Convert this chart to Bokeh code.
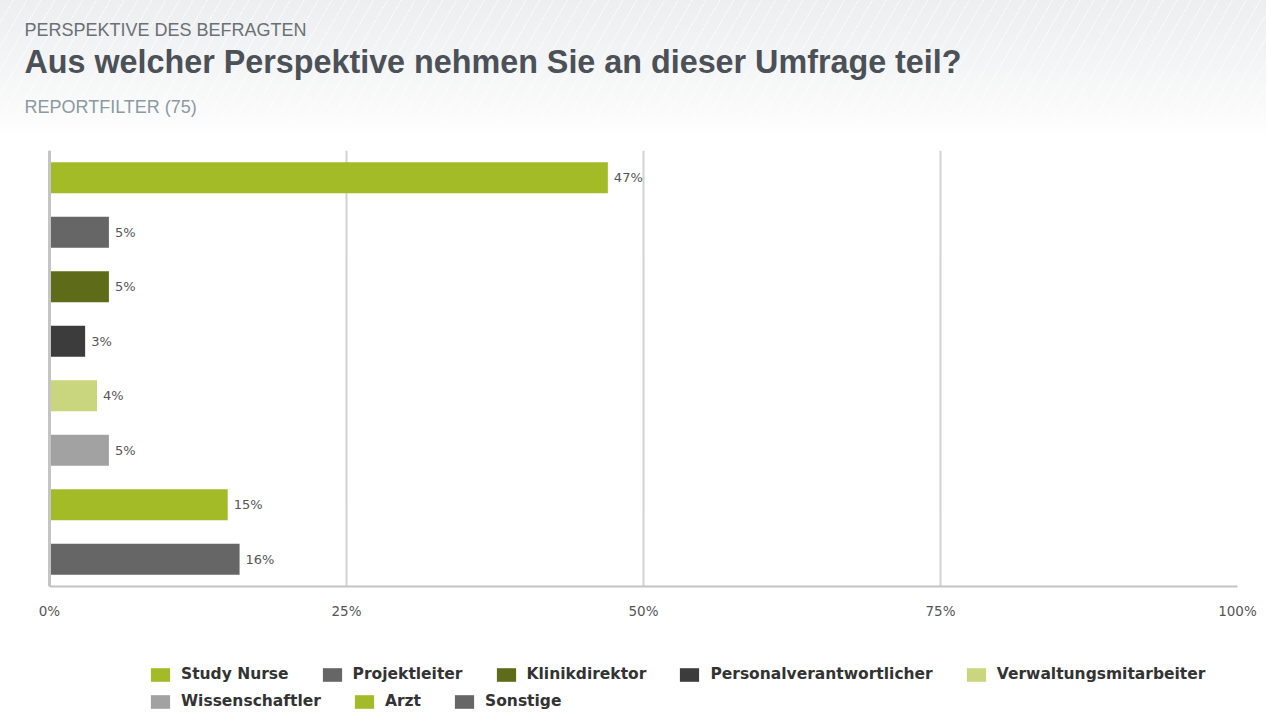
from bokeh.plotting import figure
from bokeh.layouts import column
from bokeh.models import (FactorRange, Range1d, Label, Legend, LegendItem, ColumnDataSource,
                          FixedTicker, Span)
from bokeh.core.properties import value
from bokeh.embed import file_html
from bokeh.resources import INLINE

# ---- data ----
categories = ["Study Nurse", "Projektleiter", "Klinikdirektor", "Personalverantwortlicher",
              "Verwaltungsmitarbeiter", "Wissenschaftler", "Arzt", "Sonstige"]
percent_values = [47, 5, 5, 3, 4, 5, 15, 16]
bar_colors = ["#a4bb28", "#666666", "#5e6c19", "#3c3c3c", "#c9d67e", "#a2a2a2", "#a4bb28", "#666666"]
tick_values = [0, 25, 50, 75, 100]
tick_labels = ["0%", "25%", "50%", "75%", "100%"]

kicker_text = "PERSPEKTIVE DES BEFRAGTEN"
title_text = "Aus welcher Perspektive nehmen Sie an dieser Umfrage teil?"
filter_text = "REPORTFILTER (75)"

src = ColumnDataSource(dict(
    cat=categories,
    val=percent_values,
    color=bar_colors,
    label=[f"{v}%" for v in percent_values],
))

W = 1266
AX_L, FR = 49, 1237        # pixel position of 0% and of the frame's right edge
RB = W - FR                # right border shared by all stacked figures

# ---------------- header ----------------
header = figure(width=W, height=150, x_range=Range1d(0, FR), y_range=Range1d(150, 0),
                x_axis_location=None, y_axis_location=None, min_border=0,
                min_border_left=0, min_border_right=RB,
                output_backend="svg", toolbar_location=None)
header.outline_line_color = None
header.background_fill_color = None
header.border_fill_color = None
header.grid.visible = False
header.styles = {
    "background": ("repeating-linear-gradient(120deg, rgba(255,255,255,0) 0px, "
                   "rgba(255,255,255,0) 11px, rgba(255,255,255,0.55) 11px, "
                   "rgba(255,255,255,0.55) 12px), "
                   "linear-gradient(to bottom, #eceeef 0px, #f3f4f5 60px, #fbfbfb 115px, #ffffff 140px)")
}
header.add_layout(Label(x=24, y=29, text=kicker_text, text_baseline="alphabetic",
                        text_font="Liberation Sans", text_font_size="18px",
                        text_color="#6b7074"))
header.add_layout(Label(x=24, y=61, text=title_text, text_baseline="alphabetic",
                        text_font="Liberation Sans", text_font_size="32.3px",
                        text_font_style="bold", text_color="#4b5156"))
header.add_layout(Label(x=24, y=106, text=filter_text, text_baseline="alphabetic",
                        text_font="Liberation Sans", text_font_size="18px",
                        text_color="#8b9aa1"))

# ---------------- main chart ----------------
# frame spans the full width from the left edge; 0% sits at AX_L pixels
x_start = -100.0 * AX_L / (FR - AX_L)
p = figure(width=W, height=490,
           y_range=FactorRange(factors=list(reversed(categories))),
           x_range=Range1d(x_start, 100),
           output_backend="svg", toolbar_location=None,
           min_border_left=0, min_border_right=RB, min_border_top=0, min_border_bottom=54)
p.outline_line_color = None
p.background_fill_color = "white"
p.border_fill_color = "white"

bars = p.hbar(y="cat", right="val", left=0, height=0.57, fill_color="color",
              line_color=None, source=src)
p.text(x="val", y="cat", text="label", x_offset=6, text_baseline="middle",
       text_font=value("DejaVu Sans"), text_font_size="13px", text_color="#555555",
       source=src)

xa = p.xaxis[0]
xa.ticker = FixedTicker(ticks=tick_values)
xa.bounds = (0, 100)
xa.major_label_overrides = {v: l for v, l in zip(tick_values, tick_labels)}
xa.axis_line_color = "#c4c4c4"
xa.axis_line_width = 2
xa.major_tick_line_color = None
xa.major_tick_out = 0
xa.major_tick_in = 0
xa.minor_tick_line_color = None
xa.major_label_text_font = "DejaVu Sans"
xa.major_label_text_font_size = "13.5px"
xa.major_label_text_color = "#555555"
xa.major_label_standoff = 16

p.yaxis.visible = False
p.add_layout(Span(location=0, dimension="height", line_color="#c4c4c4", line_width=3))

p.ygrid.grid_line_color = None
p.xgrid.grid_line_color = "#d2d2d2"
p.xgrid.grid_line_width = 2

# ---------------- legend ----------------
lg = figure(width=W, height=71, x_range=Range1d(-20, -10),
            y_range=FactorRange(factors=list(reversed(categories))),
            x_axis_location=None, y_axis_location=None, min_border=0,
            min_border_left=0, min_border_right=RB,
            output_backend="svg", toolbar_location=None)
lg.outline_line_color = None
lg.grid.visible = False
lg_bars = lg.hbar(y="cat", right="val", left=0, height=0.0, fill_color="color",
                  line_color=None, source=src)


def make_legend(idx, loc):
    items = [LegendItem(label=categories[i], renderers=[lg_bars], index=i) for i in idx]
    return Legend(items=items, orientation="horizontal", location=loc,
                  glyph_width=24, glyph_height=17, label_height=17, label_standoff=9,
                  spacing=31, padding=0, margin=0,
                  label_text_font="DejaVu Sans", label_text_font_style="bold",
                  label_text_font_size="15.5px", label_text_color="#333333",
                  border_line_color=None, background_fill_alpha=0)


lg.add_layout(make_legend([0, 1, 2, 3, 4], (148, 28)))
lg.add_layout(make_legend([5, 6, 7], (148, 1)))

layout = column(header, p, lg, spacing=0)
open("out.html", "w").write(file_html(layout, INLINE))
